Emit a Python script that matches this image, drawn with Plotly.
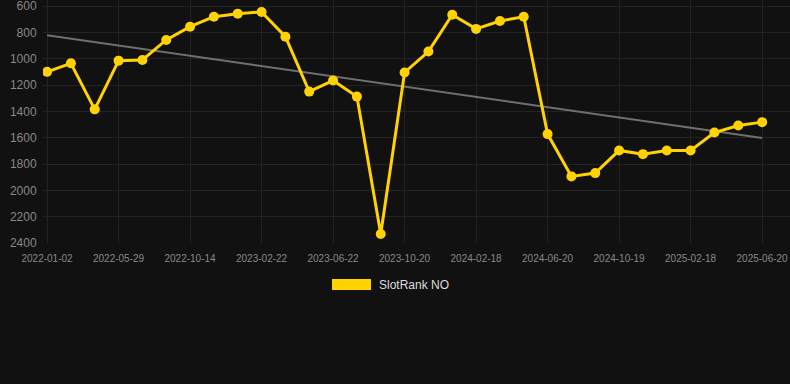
import numpy as np
import plotly.graph_objects as go

dates = [
    "2022-01-02", "2022-02-20", "2022-04-10", "2022-05-29", "2022-07-14", "2022-08-29",
    "2022-10-14", "2022-11-30", "2023-01-06", "2023-02-22", "2023-04-03", "2023-05-13",
    "2023-06-22", "2023-08-01", "2023-09-10", "2023-10-20", "2023-11-29", "2024-01-08",
    "2024-02-18", "2024-03-28", "2024-05-11", "2024-06-20", "2024-07-30", "2024-09-08",
    "2024-10-19", "2024-11-28", "2025-01-07", "2025-02-18", "2025-03-30", "2025-05-10",
    "2025-06-20",
]
ranks = [
    1100, 1035, 1385, 1015, 1010, 858, 757, 681, 658, 645, 833, 1250, 1166, 1288, 2332,
    1105, 946, 666, 774, 714, 681, 1573, 1894, 1869, 1697, 1725, 1697, 1697, 1561, 1508, 1482,
]
tick_labels = [
    "2022-01-02", "2022-05-29", "2022-10-14", "2023-02-22", "2023-06-22", "2023-10-20",
    "2024-02-18", "2024-06-20", "2024-10-19", "2025-02-18", "2025-06-20",
]
y_ticks = [600, 800, 1000, 1200, 1400, 1600, 1800, 2000, 2200, 2400]
series_name = "SlotRank NO"

idx = np.arange(len(ranks))
slope, intercept = np.polyfit(idx, ranks, 1)
trend = slope * idx + intercept

fig = go.Figure()
fig.add_trace(go.Scatter(
    x=dates, y=trend, mode="lines",
    line=dict(color="#6f6f6f", width=2), hoverinfo="skip", showlegend=False,
))
fig.add_trace(go.Scatter(
    x=dates, y=ranks, mode="lines+markers", name=series_name,
    line=dict(color="#FFD200", width=3),
    marker=dict(color="#FFD200", size=10),
    showlegend=False,
))

W, H = 790, 384
L, R, T, B = 43, 0, 0, 141
pw, ph = W - L - R, H - T - B

def px_x(p):
    return (p - L) / pw

def px_y(p):
    return (H - B - p) / ph

fig.add_shape(type="rect", xref="paper", yref="paper",
              x0=px_x(332), x1=px_x(371), y0=px_y(290), y1=px_y(279),
              fillcolor="#FFD200", line=dict(width=0))
fig.add_annotation(xref="paper", yref="paper", x=px_x(377), y=px_y(284.5),
                   text=series_name, showarrow=False, xanchor="left", yanchor="middle",
                   font=dict(family="Liberation Sans, Arial, sans-serif", size=12, color="#dddddd"))

fig.update_layout(
    width=W, height=H,
    margin=dict(l=L, r=R, t=T, b=B),
    paper_bgcolor="#111111", plot_bgcolor="#111111",
    font=dict(family="Liberation Sans, Arial, sans-serif", color="#888888"),
    showlegend=False,
    xaxis=dict(
        type="category",
        range=[-0.17, len(dates) - 1 + 1.17],
        tickmode="array", tickvals=tick_labels, ticktext=tick_labels,
        tickfont=dict(size=10, color="#888888"),
        showgrid=True, gridcolor="#232323", gridwidth=1,
        zeroline=False, showline=False,
        ticks="outside", ticklen=6, tickcolor="rgba(0,0,0,0)",
    ),
    yaxis=dict(
        range=[2400, 554.4],
        tickmode="array", tickvals=y_ticks,
        tickfont=dict(size=12, color="#888888"),
        ticklabeloverflow="allow",
        showgrid=True, gridcolor="#232323", gridwidth=1,
        zeroline=False, showline=False,
        ticks="outside", ticklen=3, tickcolor="rgba(0,0,0,0)",
    ),
)

fig.write_html("out.html", config={"displayModeBar": False},
               post_script="document.body.style.margin='0';document.body.style.background='#111111';")
